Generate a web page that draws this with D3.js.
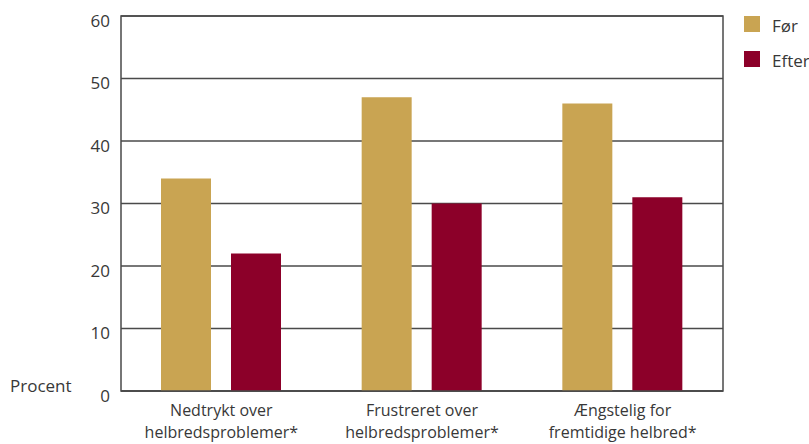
<!DOCTYPE html>
<html><head><meta charset="utf-8">
<script src="https://cdn.jsdelivr.net/npm/d3@7"></script>
<style>body{margin:0;background:#fff}svg{display:block}text{font-family:"Open Sans",sans-serif;fill:#383838}</style>
</head><body><svg id="c" width="809" height="444"></svg>
<script>
const categories = [["Nedtrykt over","helbredsproblemer*"],["Frustreret over","helbredsproblemer*"],["Ængstelig for","fremtidige helbred*"]];
const series = ["Før","Efter"];
const before = [34,47,46];
const after = [22,30,31];
const yTicks = [0,10,20,30,40,50,60];
const colors = ["#C9A452","#8C0029"];

const svg = d3.select("#c");
const L=121,R=723,T=16,B=391;
const y = d3.scaleLinear().domain([0,60]).range([B,T]);
const x0 = d3.scaleBand().domain(d3.range(categories.length)).range([L,R]);
const x1 = d3.scaleBand().domain(series).range([40,160]).paddingInner(2-120/70);

// gridlines
svg.append("g").selectAll("line").data(yTicks).join("line")
 .attr("x1",L).attr("x2",R).attr("y1",d=>y(d)).attr("y2",d=>y(d))
 .attr("stroke","#4a4a4a").attr("stroke-width",1.5);
// frame
svg.append("rect").attr("x",L).attr("y",T).attr("width",R-L).attr("height",B-T)
 .attr("fill","none").attr("stroke","#4a4a4a").attr("stroke-width",1.5);

const vals = [before,after];
const g = svg.append("g");
categories.forEach((c,i)=>{
  series.forEach((s,j)=>{
    g.append("rect").attr("x",x0(i)+x1(s)).attr("width",x1.bandwidth())
     .attr("y",y(vals[j][i])).attr("height",B-y(vals[j][i])).attr("fill",colors[j]);
  });
});
// baseline over bars
svg.append("line").attr("x1",L).attr("x2",R).attr("y1",B).attr("y2",B).attr("stroke","#4a4a4a").attr("stroke-width",1.5);

// y labels
svg.append("g").selectAll("text").data(yTicks).join("text")
 .attr("x",110).attr("y",d=>y(d)+10.5).attr("text-anchor","end").attr("font-size",17).text(d=>d);
svg.append("text").attr("x",10).attr("y",392).attr("font-size",17).text("Procent");

// category labels
categories.forEach((c,i)=>{
  const t = svg.append("text").attr("text-anchor","middle").attr("font-size",16);
  c.forEach((line,k)=>t.append("tspan").attr("x",x0(i)+x0.bandwidth()/2).attr("y",416+k*22).text(line));
});

// legend
series.forEach((s,j)=>{
  svg.append("rect").attr("x",744).attr("y",16+j*35).attr("width",16).attr("height",16).attr("fill",colors[j]);
  svg.append("text").attr("x",772).attr("y",32+j*35).attr("font-size",17).text(s);
});
</script></body></html>
